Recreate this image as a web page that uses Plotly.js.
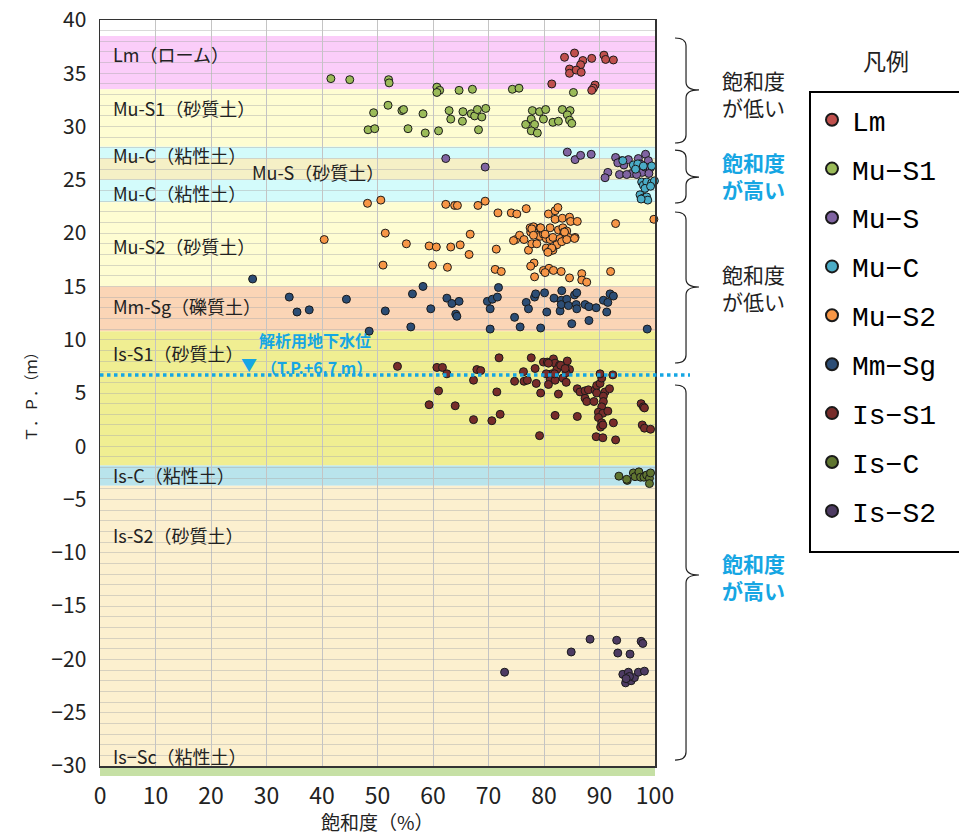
<!DOCTYPE html>
<html><head><meta charset="utf-8">
<script src="https://cdn.plot.ly/plotly-3.0.1.min.js"></script>
<style>body{margin:0;background:#fff}#c{width:959px;height:836px}</style>
</head><body><div id="c"></div>
<script>
// ---- data ----
const seriesNames = ["Lm","Mu\u2212S1","Mu\u2212S","Mu\u2212C","Mu\u2212S2","Mm\u2212Sg","Is\u2212S1","Is\u2212C","Is\u2212S2"];

const lmX = [83.7,85.5,87.0,86.6,84.6,84.6,85.8,86.7,88.6,90.8,91.1,92.5,81.4,89.2,88.9,88.6];
const lmY = [36.5,36.9,36.2,35.8,35.4,35.0,35.3,35.1,36.4,36.7,36.3,36.25,34.0,33.9,33.6,33.4];

const muS1X = [41.6,45.0,52.0,52.1,60.7,61.2,60.7,64.7,67.1,74.3,75.5,85.3,49.3,51.9,54.4,54.7,58.2,48.3,49.5,55.5,58.6,61.0,62.9,63.2,65.4,65.3,66.9,67.5,68.0,68.8,69.5,68.2,76.7,77.7,77.9,79.2,80.3,78.3,77.7,78.8,79.9,81.6,82.6,83.3,84.7,84.2,84.6,85.0];
const muS1Y = [34.5,34.4,34.4,34.1,33.7,33.4,33.2,33.4,33.5,33.5,33.6,33.2,31.3,32.0,31.5,31.6,31.2,29.7,29.8,29.8,29.4,29.6,31.5,30.7,31.4,30.5,31.2,31.0,31.6,30.9,31.7,29.7,30.2,30.7,31.5,31.4,31.6,30.2,29.6,29.4,30.7,30.4,30.5,31.6,31.5,31.1,30.6,30.3];

const muSX = [62.3,69.4,84.2,85.6,86.6,88.5,92.9,91.5,91.0,93.6,94.0,94.4,95.2,95.8,96.4,97.0,97.3,97.7,98.3,98.8,98.2,96.7,94.9,99.1,98.9,93.3];
const muSY = [27.0,26.2,27.6,26.9,27.3,27.4,27.1,25.7,25.2,25.5,26.8,26.4,26.9,25.6,26.1,27.0,26.5,25.7,27.4,26.8,26.2,25.5,25.5,26.1,25.6,26.6];

const muCX = [94.2,96.1,96.9,97.9,99.4,97.6,97.9,98.5,99.4,99.9,98.2,97.3,97.9,98.5,98.7,97.5,99.2,96.5];
const muCY = [26.8,26.4,26.5,26.3,26.3,24.8,24.5,24.8,24.7,24.9,24.2,23.6,23.3,23.4,23.1,23.2,24.4,26.0];

const muS2X = [48.2,50.6,62.3,63.9,64.4,68.1,69.4,71.7,74.1,75.1,76.8,80.8,82.0,82.5,82.0,83.3,84.6,84.8,86.0,92.9,99.8,40.4,51.4,55.2,59.3,60.6,63.2,64.9,66.7,66.5,71.4,51.0,59.9,62.6,71.2,72.3,77.6,74.9,74.5,75.6,76.4,77.2,77.5,78.1,79.3,81.1,82.6,83.4,84.1,83.6,78.7,79.3,79.9,80.4,81.1,81.6,82.9,83.8,84.4,85.6,77.8,78.7,82.3,83.2,80.4,81.0,81.6,78.2,77.6,79.9,80.9,81.7,83.1,80.2,84.6,86.8,86.8,87.7,92.0,78.3,77.8,79.4,78.1,80.2,83.7,84.1,85.5,81.4,80.7];
const muS2Y = [22.8,23.1,22.7,22.6,22.6,22.6,23.0,21.9,21.9,21.8,22.3,21.8,22.1,22.4,21.3,21.4,21.5,21.1,21.1,20.9,21.3,19.4,20.0,19.0,18.8,18.7,18.7,18.9,19.9,18.0,18.5,17.0,17.0,16.8,16.6,16.4,20.1,19.4,19.3,19.8,19.4,18.4,20.5,20.6,20.5,20.5,20.3,20.5,20.2,20.1,19.8,19.7,19.9,19.5,19.4,19.6,19.5,19.4,19.6,19.6,19.0,19.0,18.9,19.2,18.6,18.3,18.4,17.2,16.9,16.5,16.7,16.5,16.4,16.3,15.8,16.2,15.6,15.4,16.4,15.9,20.4,20.5,19.8,19.9,20.1,19.4,19.5,18.6,18.2];

const mmSgX = [27.5,34.1,35.5,37.7,44.4,48.5,51.4,56.0,56.3,58.2,59.6,62.5,63.4,64.7,64.1,64.3,69.8,70.7,71.6,71.8,70.3,70.3,74.7,75.7,76.8,77.2,78.3,78.5,79.4,80.1,80.5,81.8,82.9,83.1,83.2,83.1,84.1,84.4,85.0,85.5,85.9,85.8,85.9,87.4,88.1,88.1,89.4,90.7,91.3,91.5,91.9,92.5,98.6];
const mmSgY = [15.7,14.0,12.6,12.8,13.8,10.8,12.7,11.2,14.3,15.0,12.9,13.9,13.4,13.6,12.4,12.2,13.6,13.8,14.0,14.9,12.9,11.0,12.1,11.2,13.5,12.9,14.0,14.3,11.1,14.4,12.6,13.9,12.7,13.7,14.6,13.3,13.8,13.2,11.5,14.2,14.4,13.3,12.9,13.3,13.1,11.8,13.0,13.7,12.6,13.5,14.3,14.1,11.0];

const isS1X = [53.6,60.7,61.7,62.5,61.0,59.3,64.0,67.3,67.3,67.9,68.6,71.9,71.5,70.6,72.1,74.7,76.3,76.4,77.0,77.7,78.4,78.6,79.2,79.4,79.9,80.6,81.7,82.0,82.8,81.4,82.3,81.1,82.0,80.8,83.4,83.8,84.2,84.6,84.0,84.0,82.6,82.0,86.0,86.0,86.5,87.4,88.0,87.4,87.7,89.0,89.2,89.5,90.1,90.4,90.1,92.4,89.5,91.0,91.8,90.7,90.7,90.4,89.8,90.6,91.5,89.8,90.4,90.2,90.6,92.5,89.4,90.6,92.9,97.5,97.9,98.1,97.7,98.1,99.2,80.8,83.0,83.8,80.4,81.9];
const isS1Y = [7.5,7.4,7.4,6.8,5.2,3.9,3.8,2.5,6.2,7.2,7.1,8.3,5.1,2.4,3.0,6.1,7.0,6.1,6.2,8.3,7.3,5.9,1.0,5.0,7.9,7.9,8.2,7.8,7.6,6.8,7.2,6.3,6.2,5.8,6.4,7.5,8.0,7.2,6.9,6.0,4.9,2.9,2.8,5.4,5.1,5.2,5.3,4.5,4.2,4.2,5.3,5.7,5.9,6.4,6.8,6.7,5.0,5.1,5.4,4.7,4.2,3.7,3.2,3.1,3.3,2.7,2.2,1.8,2.0,2.2,0.9,0.8,0.6,4.0,3.7,3.6,2.0,1.7,1.6,7.8,7.6,7.3,6.8,6.8];

const isCX = [93.5,95.0,96.1,96.4,97.1,97.4,98.0,98.5,99.0,99.2,99.0,94.9];
const isCY = [-2.8,-3.2,-2.5,-2.85,-2.4,-2.9,-2.9,-2.7,-3.0,-2.5,-3.5,-3.1];

const isS2X = [72.9,84.9,88.3,93.1,93.3,95.5,97.5,97.8,94.2,95.2,95.1,94.7,95.7,96.3,97.0,98.1,95.4,94.8];
const isS2Y = [-21.2,-19.3,-18.1,-18.2,-19.4,-19.5,-18.3,-18.5,-21.4,-21.2,-21.9,-22.2,-22.0,-21.7,-21.2,-21.1,-21.6,-21.8];

// soil layers (T.P. top / bottom, m) and labels
const layerTop    = [38.5, 33.5, 28.1, 27.0, 25.0, 22.9, 15.0, 10.8, -1.8, -3.7];
const layerBottom = [33.5, 28.1, 27.0, 25.0, 22.9, 15.0, 10.8, -1.8, -3.7, -30];
const layerLabels = ["Lm（ローム）","Mu-S1（砂質土）","Mu-C（粘性土）","Mu-S（砂質土）","Mu-C（粘性土）","Mu-S2（砂質土）","Mm-Sg（礫質土）","Is-S1（砂質土）","Is-C（粘性土）","Is-S2（砂質土）","Is−Sc（粘性土）"];
const labelY = [36.8, 31.7, 27.3, 25.7, 23.8, 18.8, 13.2, 8.75, -2.7, -8.3, -29.1];
const labelX = [2.0, 2.0, 2.0, 27.0, 2.0, 2.0, 2.0, 2.0, 2.0, 2.0, 2.0];
const waterLevel = 6.7;

// ---- styles ----
const layerColors = ["#FBCDF9","#FEFDD2","#D3FBFB","#F5F0C6","#D3FBFB","#FEFDD2","#FBD5B6","#F0EE92","#B9E4EC","#FCF0CF"];
const markerColors = ["#C0504D","#9BBB59","#8064A2","#4BACC6","#F79646","#2C4D75","#772C2A","#5F7530","#4D3B62"];
const blue = "#16A6E3";
const jp = "Noto Sans CJK JP";
const narrow = "Liberation Sans Narrow, Arial Narrow, Noto Sans CJK JP";

const xs = [lmX,muS1X,muSX,muCX,muS2X,mmSgX,isS1X,isCX,isS2X];
const ys = [lmY,muS1Y,muSY,muCY,muS2Y,mmSgY,isS1Y,isCY,isS2Y];

const traces = seriesNames.map((n,i)=>({
  type:"scatter", mode:"markers", name:n, x:xs[i], y:ys[i],
  legendgroup:"g"+i,
  marker:{size:8, color:markerColors[i], line:{color:"#1a1a1a", width:1}},
  cliponaxis:false, hoverinfo:"x+y+name"
}));

// pixel -> paper helpers for decoration
const L=100,R=655,T=20,B=766;
const px = v => (v-L)/(R-L);
const py = v => (B-v)/(B-T);

const shapes = [];
layerTop.forEach((t,i)=>{
  shapes.push({type:"rect", layer:"below", xref:"x", yref:"y", x0:0, x1:100, y0:layerBottom[i], y1:t, fillcolor:layerColors[i], line:{width:0}});
});
// Is-Sc strip under axis
shapes.push({type:"rect", layer:"below", xref:"paper", yref:"paper", x0:0, x1:1, y0:py(776), y1:py(766), fillcolor:"#C6E0A5", line:{width:0}});
// water level
shapes.push({type:"line", xref:"paper", yref:"paper", x0:0, x1:px(690), y0:(waterLevel+30)/70, y1:(waterLevel+30)/70, line:{color:blue, width:3.5, dash:"dot"}});
// legend frame
shapes.push({type:"rect", xref:"paper", yref:"paper", x0:px(810), x1:px(975), y0:py(552), y1:py(92), line:{color:"#000", width:2}, fillcolor:"rgba(0,0,0,0)"});

// braces
function brace(t,b,m){
  const x0=675,xv=686,xt=699,r=8;
  const P=(a,c)=>px(a).toFixed(4)+","+py(c).toFixed(4);
  return "M"+P(x0,t)+" Q"+P(xv,t)+" "+P(xv,t+r)+" L"+P(xv,m-r)+" Q"+P(xv,m)+" "+P(xt,m)+
         " Q"+P(xv,m)+" "+P(xv,m+r)+" L"+P(xv,b-r)+" Q"+P(xv,b)+" "+P(x0,b);
}
[[38,143,90],[150,203,177],[212,363,287],[385,760,575]].forEach(a=>{
  shapes.push({type:"path", xref:"paper", yref:"paper", path:brace(a[0],a[1],a[2]), line:{color:"#222", width:1.2}});
});

const annotations = layerLabels.map((t,i)=>({
  text:t, xref:"x", yref:"y", x:labelX[i], y:labelY[i], xanchor:"left", yanchor:"middle",
  showarrow:false, font:{family:jp, size:18, color:"#222"}
}));
annotations.push(
  {text:"解析用地下水位", xref:"x", yref:"y", x:28.3, y:9.95, xanchor:"left", yanchor:"middle", showarrow:false, font:{family:jp, size:16, color:blue, weight:700}},
  {text:"（T.P.+6.7 m）", xref:"x", yref:"y", x:28.6, y:7.45, xanchor:"left", yanchor:"middle", showarrow:false, font:{family:jp, size:16, color:blue, weight:700}},
  {text:"▼", xref:"x", yref:"y", x:26.8, y:7.7, xanchor:"center", yanchor:"middle", showarrow:false, font:{family:jp, size:16, color:blue}},
  {text:"飽和度<br>が低い", xref:"paper", yref:"paper", x:px(753), y:py(94), xanchor:"center", yanchor:"middle", showarrow:false, font:{family:jp, size:21, color:"#222"}},
  {text:"飽和度<br>が高い", xref:"paper", yref:"paper", x:px(753), y:py(175), xanchor:"center", yanchor:"middle", showarrow:false, font:{family:jp, size:21, color:blue, weight:700}},
  {text:"飽和度<br>が低い", xref:"paper", yref:"paper", x:px(753), y:py(287), xanchor:"center", yanchor:"middle", showarrow:false, font:{family:jp, size:21, color:"#222"}},
  {text:"飽和度<br>が高い", xref:"paper", yref:"paper", x:px(753), y:py(576), xanchor:"center", yanchor:"middle", showarrow:false, font:{family:jp, size:21, color:blue, weight:700}},
  {text:"凡例", xref:"paper", yref:"paper", x:px(886), y:py(60), xanchor:"center", yanchor:"middle", showarrow:false, font:{family:jp, size:23, color:"#222"}},
  {text:"Ｔ．Ｐ．（ｍ）", xref:"paper", yref:"paper", x:px(30), y:0.5, xanchor:"center", yanchor:"middle", textangle:-90, showarrow:false, font:{family:jp, size:15, color:"#222"}},
  {text:"飽和度（%）", xref:"paper", yref:"paper", x:0.5, y:py(821), xanchor:"center", yanchor:"middle", showarrow:false, font:{family:jp, size:19, color:"#222"}}
);

const layout = {
  width:959, height:836,
  margin:{l:100, r:304, t:20, b:70},
  paper_bgcolor:"#fff", plot_bgcolor:"#fff",
  showlegend:true,
  legend:{x:px(812), y:py(95), xanchor:"left", yanchor:"top", borderwidth:0,
          font:{family:"Liberation Mono, DejaVu Sans Mono", size:28, color:"#000"},
          traceorder:"grouped", tracegroupgap:9.5, itemsizing:"constant", bgcolor:"rgba(255,255,255,0)"},
  xaxis:{range:[0,100], dtick:10, tick0:0, showgrid:true, gridcolor:"#c4c4c4", gridwidth:1, zeroline:false,
         showline:true, mirror:true, linecolor:"#333", linewidth:1.5, ticks:"", ticklabelstandoff:9,
         tickfont:{family:narrow, size:23, color:"#222"}, fixedrange:true},
  yaxis:{range:[-30,40], dtick:5, tick0:0, showgrid:true, gridcolor:"rgba(170,170,170,0.45)", gridwidth:1, zeroline:false,
         minor:{dtick:1, showgrid:true, gridcolor:"rgba(170,170,170,0.45)", gridwidth:1},
         showline:true, mirror:true, linecolor:"#333", linewidth:1.5, ticks:"", ticklabelstandoff:8,
         tickfont:{family:narrow, size:21, color:"#222"}, fixedrange:true},
  shapes:shapes, annotations:annotations
};

Plotly.newPlot("c", traces, layout, {displayModeBar:false, staticPlot:true});
</script>
</body></html>
